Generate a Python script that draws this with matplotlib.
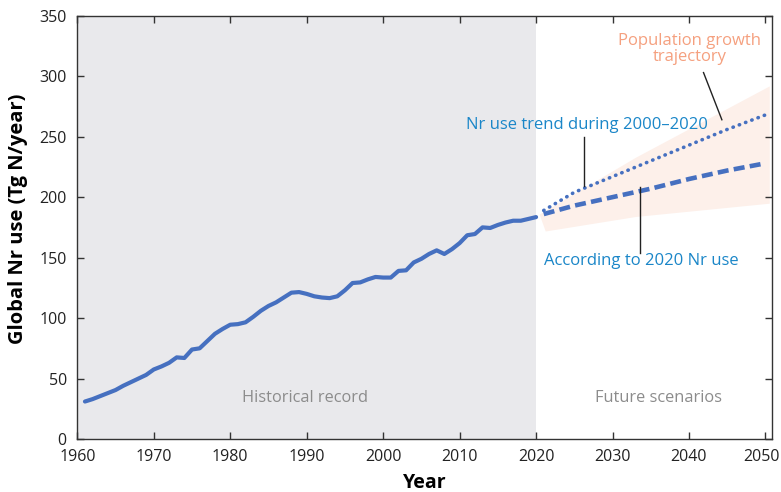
import numpy as np
import matplotlib.pyplot as plt
from matplotlib.transforms import ScaledTranslation

plt.rcParams['font.family'] = ['Open Sans', 'DejaVu Sans']

# Historical global Nr use (Tg N/year), 1961-2020
hist_years = np.arange(1961, 2021)
hist_use = [31, 33, 35.5, 38, 40.5, 44, 47, 50, 53, 57.5,
            60, 63, 67.5, 67, 74, 75, 81, 87, 91, 94.5,
            95, 96.5, 101, 106, 110, 113, 117, 121, 121.5, 120,
            118, 117, 116.5, 118, 123, 129, 129.5, 132, 134, 133.5,
            133.5, 139, 139.5, 146, 149, 153, 156, 153, 157, 162,
            168.5, 169.5, 175, 174.5, 177, 179, 180.5, 180.5, 182, 183.5]

# Scenarios
proj_years = [2021, 2025, 2030, 2035, 2040, 2045, 2050]
trend_use = [189, 204, 217, 230, 243, 256, 268]     # Nr use trend 2000-2020
const_use = [186, 193, 200, 207, 215, 222, 228]     # according to 2020 Nr use

# Population growth trajectory band
band_years = [2020.4, 2021.2, 2033, 2050.5]
band_low = [186, 172, 184, 195]
band_high = [186, 189, 233, 292]

line_color = '#4670c0'
blue_text = '#1a86c8'
salmon = '#f5a07f'

fig = plt.figure(figsize=(7.81, 4.92), dpi=100)
ax = fig.add_axes([0.099, 0.1077, 0.8899, 0.8603])

ax.axvspan(1960, 2020, color='#e9e9ec', lw=0, zorder=0)
ax.fill_between(band_years, band_low, band_high, color='#fdf0ea', lw=0, zorder=1)

ax.plot(hist_years, hist_use, color=line_color, lw=3, solid_capstyle='round', zorder=3)
ax.plot(proj_years, trend_use, color=line_color, lw=2.6, ls=(0, (0.1, 1.75)),
        dash_capstyle='round', zorder=3)
ax.plot(proj_years, const_use, color=line_color, lw=3.3, ls=(0, (2.4, 1.15)), zorder=3)

ax.set_xlim(1960, 2050.9)
ax.set_ylim(0, 350)
ax.set_xticks(np.arange(1960, 2051, 10))
ax.set_yticks(np.arange(0, 351, 50))
ax.tick_params(direction='in', length=5.3, width=1, color='#333333',
               labelsize=11.5, top=True, right=True, labelcolor='#222222')
ax.tick_params(axis='x', pad=7)
ax.tick_params(axis='y', pad=7.6)
for s in ax.spines.values():
    s.set_color('#333333')
    s.set_linewidth(1)

last = ax.get_xticklabels()[-1]
last.set_transform(last.get_transform() + ScaledTranslation(-2.5 / 72, 0, fig.dpi_scale_trans))

ax.set_xlabel('Year', fontsize=14, fontweight='bold', labelpad=6)
ax.set_ylabel('Global Nr use (Tg N/year)', fontsize=14.5, fontweight='bold')
ax.yaxis.set_label_coords(-0.071, 0.52)

ax.text(1989.8, 34, 'Historical record', color='#8c8c8c', fontsize=11.8, ha='center', va='center')
ax.text(2036, 34, 'Future scenarios', color='#8c8c8c', fontsize=11.8, ha='center', va='center')
ax.text(2040.1, 322.5, 'Population growth\ntrajectory', color=salmon, fontsize=12,
        ha='center', va='center', linespacing=1.05)
ax.text(2026.6, 260, 'Nr use trend during 2000\u20132020', color=blue_text, fontsize=12,
        ha='center', va='center')
ax.text(2033.7, 147, 'According to 2020 Nr use', color=blue_text, fontsize=12,
        ha='center', va='center')

# leader lines
ax.plot([2041.9, 2044.3], [303, 264], color='#222222', lw=1, zorder=4)
ax.plot([2026.3, 2026.3], [250, 209], color='#222222', lw=1, zorder=4)
ax.plot([2033.6, 2033.6], [208, 154], color='#222222', lw=1, zorder=4)

fig.savefig('out.png', dpi=100)
